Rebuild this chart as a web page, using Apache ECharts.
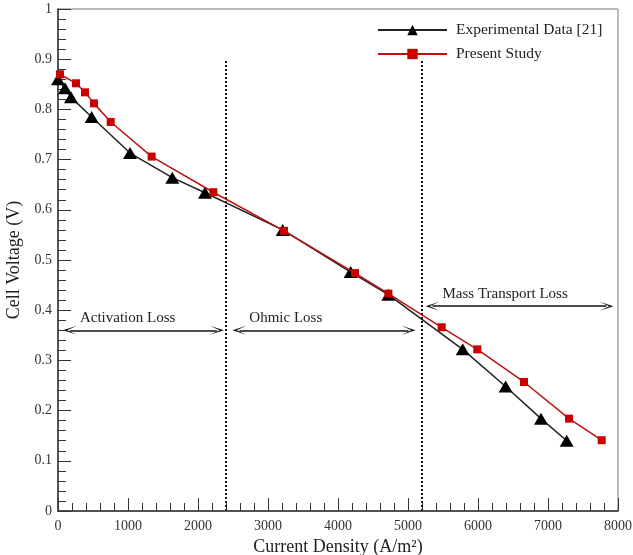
<!DOCTYPE html>
<html>
<head>
    <meta charset="UTF-8">
    <title>Cell voltage vs current density</title>
    <script src="https://cdn.jsdelivr.net/npm/echarts@6/dist/echarts.min.js"></script>
</head>
<body style="margin:0">
<div id="container" style="width: 633px; height: 555px;"></div>
<script>

    // values
    var expCurrent = [0, 100, 186, 481, 1029, 1633, 2100, 3210, 4181, 4719, 5781, 6395, 6900, 7267];
    var expVoltage = [0.860, 0.842, 0.824, 0.785, 0.713, 0.664, 0.634, 0.560, 0.476, 0.431, 0.322, 0.248, 0.184, 0.140];

    var simCurrent = [29, 257, 386, 514, 753, 1338, 2219, 3229, 4243, 4720, 5481, 5990, 6657, 7300, 7767];
    var simVoltage = [0.870, 0.852, 0.834, 0.812, 0.775, 0.706, 0.635, 0.558, 0.474, 0.433, 0.366, 0.322, 0.257, 0.184, 0.141];

    var seriesNames = ['Experimental Data [21]', 'Present Study'];

    // region boundaries (dotted lines) and loss regions
    var boundaries = [2400, 5200];
    var regionNames = ['Activation Loss', 'Ohmic Loss', 'Mass Transport Loss'];

    function pairs(xs, ys) {
        var out = [];
        for (var i = 0; i < xs.length; i++) out.push([xs[i], ys[i]]);
        return out;
    }

    var serif = 'Liberation Serif';
    // open-looking arrow head, tip at the top
    var arrowHead = 'path://M5,0 L10,13 L5,4 L0,13 Z';

    var mychart = echarts.init(document.getElementById('container'));

    var option = {
        animation: false,
        textStyle: { fontFamily: serif },
        grid: {
            left: 58, right: 15, top: 9, bottom: 44,
            outerBoundsMode: 'none',
            show: true, borderColor: '#777', borderWidth: 1
        },
        legend: {
            data: seriesNames,
            orient: 'vertical',
            left: 372, top: 17,
            itemWidth: 69, itemHeight: 13, itemGap: 8,
            textStyle: { fontFamily: serif, fontSize: 15.5, color: '#222', padding: [0, 0, 0, 4] }
        },
        xAxis: {
            type: 'value', min: 0, max: 8000, interval: 1000,
            name: 'Current Density (A/m²)',
            nameLocation: 'middle', nameGap: 26,
            nameTextStyle: { fontFamily: serif, fontSize: 18, color: '#222' },
            axisLine: { lineStyle: { color: '#333', width: 1.5 } },
            axisTick: { inside: true, length: 13, lineStyle: { color: '#333' } },
            minorTick: { show: true, splitNumber: 5, length: 8, lineStyle: { color: '#333' } },
            splitLine: { show: false },
            axisLabel: {
                fontFamily: serif, fontSize: 14, color: '#333', margin: 8,
                formatter: function (v) { return String(v); }
            }
        },
        yAxis: {
            type: 'value', min: 0, max: 1, interval: 0.1,
            name: 'Cell Voltage (V)',
            nameLocation: 'middle', nameGap: 24,
            nameTextStyle: { fontFamily: serif, fontSize: 18, color: '#222' },
            axisLine: { lineStyle: { color: '#333', width: 1.5 } },
            axisTick: { inside: true, length: 13, lineStyle: { color: '#333' } },
            minorTick: { show: true, splitNumber: 5, length: 8, lineStyle: { color: '#333' } },
            splitLine: { show: false },
            axisLabel: { fontFamily: serif, fontSize: 14, color: '#333', margin: 6 }
        },
        series: [
            {
                name: seriesNames[0], type: 'line',
                data: pairs(expCurrent, expVoltage),
                symbol: 'triangle', symbolSize: [14, 12],
                itemStyle: { color: '#000' },
                lineStyle: { color: '#222', width: 1.5 },
                z: 3
            },
            {
                name: seriesNames[1], type: 'line',
                data: pairs(simCurrent, simVoltage),
                symbol: 'rect', symbolSize: 8,
                itemStyle: { color: '#c80000' },
                lineStyle: { color: '#c01010', width: 1.5 },
                z: 4
            },
            {
                name: 'regions', type: 'line', data: [],
                silent: true,
                markLine: {
                    silent: true,
                    symbol: 'none',
                    label: { show: false },
                    lineStyle: { color: '#111', type: [2, 2], width: 2 },
                    data: [
                        [{ coord: [boundaries[0], 0] }, { coord: [boundaries[0], 0.9] }],
                        [{ coord: [boundaries[1], 0] }, { coord: [boundaries[1], 0.9] }]
                    ]
                }
            },
            {
                name: 'arrows', type: 'line', data: [],
                silent: true,
                markLine: {
                    silent: true,
                    symbol: [arrowHead, arrowHead],
                    symbolSize: [9, 14],
                    itemStyle: { color: '#111' },
                    lineStyle: { color: '#111', type: 'solid', width: 1.5 },
                    label: {
                        show: true, position: 'insideStartTop',
                        fontFamily: serif, fontSize: 15, color: '#222',
                        distance: [10, 5]
                    },
                    data: [
                        [{ coord: [170, 0.36], name: regionNames[0] }, { coord: [2270, 0.36] }],
                        [{ coord: [2590, 0.36], name: regionNames[1] }, { coord: [5010, 0.36] }],
                        [{ coord: [5350, 0.408], name: regionNames[2] }, { coord: [7835, 0.408] }]
                    ]
                }
            }
        ]
    };

    mychart.setOption(option);

</script>
</body>
</html>
